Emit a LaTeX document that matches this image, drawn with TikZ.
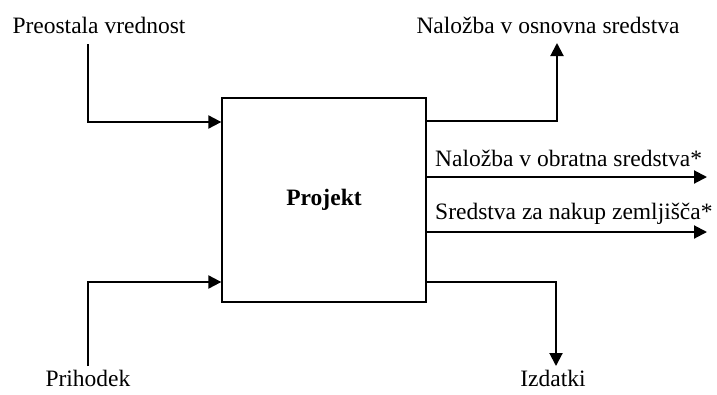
\documentclass[tikz,border=0pt]{standalone}
\usepackage{fontspec}
\setmainfont{Liberation Serif}
\usetikzlibrary{arrows.meta}
\begin{document}
\begin{tikzpicture}[x=1pt,y=-1pt,
  lbl/.style={inner sep=0pt,font=\fontsize{23.5}{28}\selectfont},
  arr/.style={line width=2pt,-{Triangle[length=13pt,width=13pt]}},
  boxst/.style={draw,line width=1.3pt,minimum width=204pt,minimum height=204pt,inner sep=0pt,font=\fontsize{23.5}{28}\selectfont\bfseries}]
\useasboundingbox (0,0) rectangle (717,394);
\node[boxst] (proj) at (324,200) {Projekt};
\node[lbl] (pre) at (99,25) {Preostala vrednost};
\node[lbl] (osn) at (548,25) {Naložba v osnovna sredstva};
\node[lbl,anchor=west] (obr) at (435,158) {Naložba v obratna sredstva*};
\node[lbl,anchor=west] (zem) at (435,214) {Sredstva za nakup zemljišča*};
\node[lbl,anchor=base] (pri) at (88,386) {Prihodek};
\node[lbl,anchor=base] (izd) at (553,386) {Izdatki};
\coordinate (preS) at (88,44);
\coordinate (osnE) at (557,43);
\coordinate (obrE) at (707,177);
\coordinate (zemE) at (707,232);
\coordinate (priS) at (88,366);
\coordinate (izdE) at (556,366);
\draw[arr] (preS) |- (proj.west |- 0,122);
\draw[arr] (priS) |- (proj.west |- 0,282);
\draw[arr] (proj.east |- 0,121) -| (osnE);
\draw[arr] (proj.east |- obrE) -- (obrE);
\draw[arr] (proj.east |- zemE) -- (zemE);
\draw[arr] (proj.east |- 0,282) -| (izdE);
\end{tikzpicture}
\end{document}
